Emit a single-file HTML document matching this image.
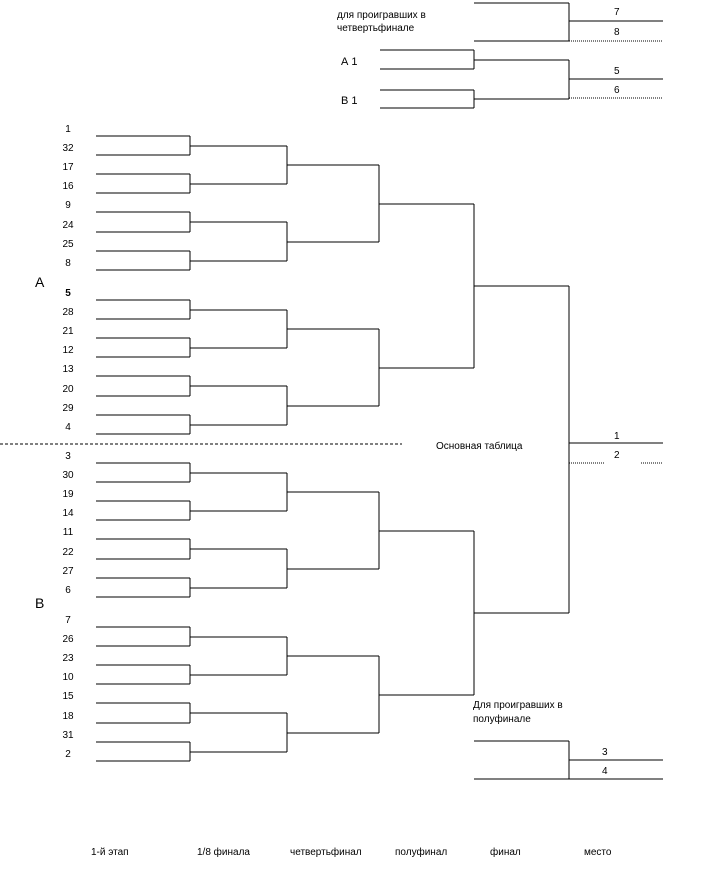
<!DOCTYPE html>
<html><head><meta charset="utf-8"><style>
html,body{margin:0;padding:0;background:#fff;width:713px;height:878px;overflow:hidden}
text{font-family:"Liberation Sans",sans-serif;font-size:10px;fill:#000}
</style></head><body>
<svg id="s" width="713" height="878" xmlns="http://www.w3.org/2000/svg" stroke="#000" stroke-width="1" fill="none" shape-rendering="crispEdges">
<g stroke="none">
<text x="337" y="18">для проигравших в</text>
<text x="337" y="31">четвертьфинале</text>
<text x="341" y="65" style="font-size:11px">А 1</text>
<text x="341" y="104" style="font-size:11px">В 1</text>
<text x="614" y="15">7</text><text x="614" y="35">8</text>
<text x="614" y="74">5</text><text x="614" y="93">6</text>
<text x="436" y="449">Основная таблица</text>
<text x="614" y="439">1</text><text x="614" y="458">2</text>
<text x="473" y="708">Для проигравших в</text>
<text x="473" y="722">полуфинале</text>
<text x="602" y="755">3</text><text x="602" y="774">4</text>
<text x="35" y="287" style="font-size:14px">А</text>
<text x="35" y="608" style="font-size:14px">В</text>
<text x="91" y="855">1-й этап</text>
<text x="197" y="855">1/8 финала</text>
<text x="290" y="855">четвертьфинал</text>
<text x="395" y="855">полуфинал</text>
<text x="490" y="855">финал</text>
<text x="584" y="855">место</text>
</g>
<g id="g"></g>
</svg>
<script>
var g=document.getElementById('g'),NS='http://www.w3.org/2000/svg';
function L(x1,y1,x2,y2,d){var e=document.createElementNS(NS,'line');e.setAttribute('x1',x1);e.setAttribute('y1',y1);e.setAttribute('x2',x2);e.setAttribute('y2',y2);if(d)e.setAttribute('stroke-dasharray',d);g.appendChild(e);}
function T(x,y,t,b){var e=document.createElementNS(NS,'text');e.setAttribute('x',x);e.setAttribute('y',y);e.setAttribute('text-anchor','middle');e.setAttribute('stroke','none');if(b)e.setAttribute('font-weight','bold');e.textContent=t;g.appendChild(e);}
var labels=[[1,32,17,16,9,24,25,8],[5,28,21,12,13,20,29,4],[3,30,19,14,11,22,27,6],[7,26,23,10,15,18,31,2]];
var starts=[136,300,463,627],st=19.1;
var semis=[];
for(var b=0;b<4;b++){
 var ys=[];for(var i=0;i<8;i++){var y=Math.round(starts[b]+i*st);ys.push(y);L(96,y,190,y);T(68,y-4,String(labels[b][i]),b==1&&i==0);}
 var r2=[];for(var i=0;i<8;i+=2){L(190,ys[i],190,ys[i+1]);var m=Math.round((ys[i]+ys[i+1])/2);r2.push(m);L(190,m,287,m);}
 var r3=[];for(var i=0;i<4;i+=2){L(287,r2[i],287,r2[i+1]);var m=Math.round((r2[i]+r2[i+1])/2);r3.push(m);L(287,m,379,m);}
 L(379,r3[0],379,r3[1]);var m=Math.round((r3[0]+r3[1])/2);semis.push(m);L(379,m,474,m);
}
var f=[];for(var i=0;i<4;i+=2){L(474,semis[i],474,semis[i+1]);var m=Math.round((semis[i]+semis[i+1])/2);f.push(m);L(474,m,569,m);}
L(569,f[0],569,f[1]);L(569,443,663,443);L(569,463,605,463,'1,1');L(641,463,663,463,'1,1');
L(0,444,402,444,'3,2');
L(474,3,569,3);L(474,41,569,41);L(569,3,569,41);L(569,21,663,21);L(569,41,663,41,'1,1');
L(380,50,474,50);L(380,69,474,69);L(474,50,474,69);
L(380,90,474,90);L(380,108,474,108);L(474,90,474,108);
L(474,60,569,60);L(474,99,569,99);L(569,60,569,99);L(569,79,663,79);L(569,98,663,98,'1,1');
L(474,741,569,741);L(474,779,569,779);L(569,741,569,779);L(569,760,663,760);L(569,779,663,779);
</script>
</body></html>
